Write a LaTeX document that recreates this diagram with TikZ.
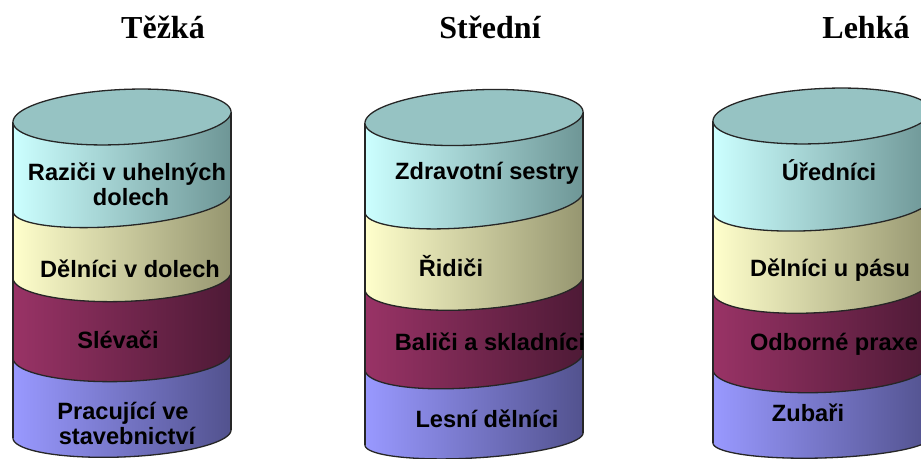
\documentclass[tikz,border=0pt]{standalone}
\usepackage{fontspec}
\setmainfont{Liberation Serif}
\setsansfont{Liberation Sans}

% band colours: light (left) / mid / dark (right)
\definecolor{cyanL}{RGB}{204,255,255}
\definecolor{cyanM}{RGB}{176,224,224}
\definecolor{cyanR}{RGB}{110,150,150}
\definecolor{yelL}{RGB}{255,255,204}
\definecolor{yelM}{RGB}{222,222,178}
\definecolor{yelR}{RGB}{150,150,112}
\definecolor{marL}{RGB}{153,51,102}
\definecolor{marM}{RGB}{122,40,82}
\definecolor{marR}{RGB}{78,26,54}
\definecolor{bluL}{RGB}{153,153,255}
\definecolor{bluM}{RGB}{125,125,212}
\definecolor{bluR}{RGB}{82,82,142}
\definecolor{lidC}{RGB}{150,195,195}

\tikzset{
  edge/.style={draw=black!85, line width=1.3bp},
  title/.style={font=\fontsize{32bp}{34bp}\selectfont\rmfamily\bfseries, anchor=base, inner sep=0pt},
  label/.style={font=\fontsize{23.6bp}{25bp}\selectfont\sffamily\bfseries, anchor=base, inner sep=0pt},
}

% radius of the cylinders
\def\rx{109}

% #1 cx, #2 Y top, #3 tilt top, #4 ry top, #5 Y bottom, #6 tilt bottom, #7 ry bottom, #8 colour stem
\newcommand{\band}[8]{%
  \fill[left color=#8L, middle color=#8M, right color=#8R]
    plot[domain=180:360,samples=73] ({#1+\rx*cos(\x)},{#2+#4*sin(\x)+#3*cos(\x)})
    -- plot[domain=360:180,samples=73] ({#1+\rx*cos(\x)},{#5+#7*sin(\x)+#6*cos(\x)})
    -- cycle;}

% front half of a level ring: #1 cx, #2 Y, #3 tilt, #4 ry
\newcommand{\ring}[4]{%
  \draw[edge] plot[domain=180:360,samples=73] ({#1+\rx*cos(\x)},{#2+#4*sin(\x)+#3*cos(\x)});}

% whole cylinder: #1 cx, then five levels given as Y/tilt/ry
\newcommand{\drum}[6]{%
  \def\cx{#1}%
  \foreach \ya/\ta/\ra/\yb/\tb/\rb/\col [count=\i] in {#2/#3/cyan, #3/#4/yel, #4/#5/mar, #5/#6/blu}{%
    \band{\cx}{\ya}{\ta}{\ra}{\yb}{\tb}{\rb}{\col}}%
  \foreach \ya/\ta/\ra in {#3,#4,#5,#6}{\ring{\cx}{\ya}{\ta}{\ra}}%
  \foreach \ya/\ta/\ra [count=\i] in {#2}{%
    \foreach \yb/\tb/\rb in {#6}{%
      \draw[edge] ({\cx-\rx},{\ya-\ta}) -- ({\cx-\rx},{\yb-\tb});
      \draw[edge] ({\cx+\rx},{\ya+\ta}) -- ({\cx+\rx},{\yb+\tb});}%
    \filldraw[edge, fill=lidC]
      plot[domain=0:360,samples=145] ({\cx+\rx*cos(\x)},{\ya+\ra*sin(\x)+\ta*cos(\x)}) -- cycle;}%
}

\begin{document}
\begin{tikzpicture}[x=1bp,y=1bp]
  \useasboundingbox (0,0) rectangle (921,459);
  \clip (0,0) rectangle (921,459);
  \fill[white] (0,0) rectangle (921,459);

  % three cylinders (levels: Y/tilt/ry, top to bottom)
  \drum{122}{342/5/27.5}{257/9/24}{184/3/26.5}{104/3/26.5}{25/4/23}
  \drum{474}{341.5/5.5/27.5}{257/10/25}{176/6.5/26.5}{98/8.5/26.5}{20/6/19}
  \drum{822}{343/5/27.5}{254/7.5/25}{173/6.5/26.5}{93/3.5/26.5}{19/3/18}

  % column titles
  \node[title] (t1) at (163,420) {Těžká};
  \node[title] (t2) at (490,420) {Střední};
  \node[title] (t3) at (866,420) {Lehká};

  % heavy
  \node[label] (h1a) at (127,278) {Raziči v uhelných};
  \node[label] (h1b) at (131,253) {dolech};
  \node[label] (h2)  at (130,181) {Dělníci v dolech};
  \node[label] (h3)  at (118,110) {Slévači};
  \node[label] (h4a) at (123,39)  {Pracující ve};
  \node[label] (h4b) at (127,14)  {stavebnictví};

  % medium
  \node[label] (m1) at (487,279) {Zdravotní sestry};
  \node[label] (m2) at (451,182) {Řidiči};
  \node[label] (m3) at (490,108) {Baliči a skladníci};
  \node[label] (m4) at (487,31)  {Lesní dělníci};

  % light
  \node[label] (l1) at (829,278) {Úředníci};
  \node[label] (l2) at (830,182) {Dělníci u pásu};
  \node[label] (l3) at (834,108) {Odborné praxe};
  \node[label] (l4) at (808,37)  {Zubaři};
\end{tikzpicture}
\end{document}
